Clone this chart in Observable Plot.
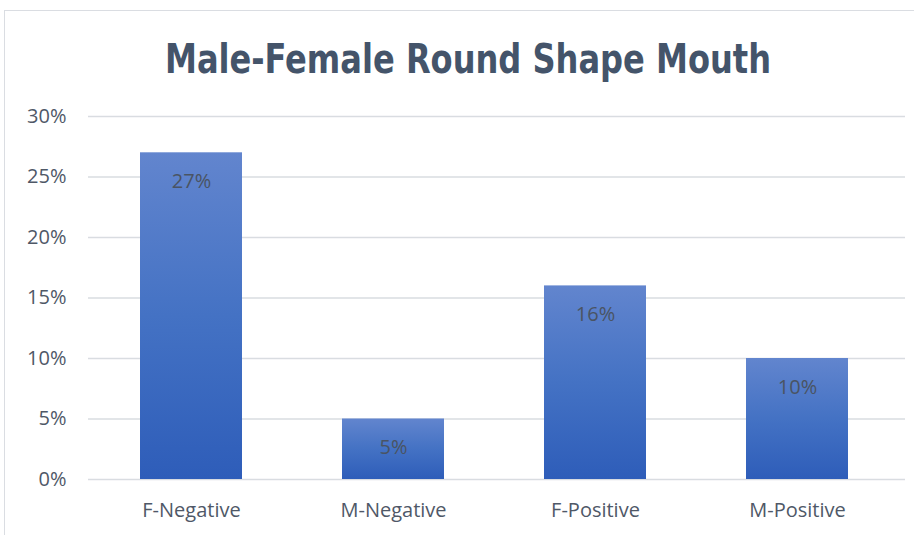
<!DOCTYPE html>
<html><head><meta charset="utf-8">
<script src="https://cdn.jsdelivr.net/npm/d3@7"></script>
<script src="https://cdn.jsdelivr.net/npm/@observablehq/plot@0.6"></script>
<style>
body{margin:0;background:#fff;}
#wrap{position:relative;width:914px;height:535px;overflow:hidden;background:#fff;}
#frame{position:absolute;left:4px;top:10px;width:1000px;height:600px;border-left:1.5px solid #DADDE2;border-top:1.5px solid #DADDE2;}
#title{position:absolute;left:0;width:936px;top:39px;line-height:41px;text-align:center;font-weight:bold;font-size:41px;font-family:"DejaVu Sans Condensed","DejaVu Sans",sans-serif;color:#44546A;white-space:nowrap;transform:scaleX(0.87);transform-origin:468px 0;}
#chart{position:absolute;left:0;top:0;}
</style></head>
<body>
<div id="wrap"><div id="frame"></div><div id="title">Male-Female Round Shape Mouth</div><div id="chart"></div></div>
<script>
const categories = ["F-Negative", "M-Negative", "F-Positive", "M-Positive"];
const values = [27, 5, 16, 10];
const yTicks = [0, 5, 10, 15, 20, 25, 30];
const data = categories.map((c, i) => ({cat: c, value: values[i]}));

const defs = () => {
  const ns = "http://www.w3.org/2000/svg";
  const g = document.createElementNS(ns, "defs");
  g.innerHTML = `<linearGradient id="barGrad" x1="0" y1="0" x2="0" y2="1">
    <stop offset="0" stop-color="#6285CE"/>
    <stop offset="0.5" stop-color="#4472C4"/>
    <stop offset="1" stop-color="#2E5DB9"/>
  </linearGradient>`;
  return g;
};

const plot = Plot.plot({
  width: 914,
  height: 535,
  marginLeft: 88,
  marginRight: 9,
  marginTop: 116,
  marginBottom: 56,
  style: {fontFamily: "'Open Sans', sans-serif", fontSize: "20px", color: "#4F5867", background: "transparent"},
  x: {domain: categories, range: [89, 899], paddingInner: 0.497, paddingOuter: 0.2485, align: 0.5, label: null, tickSize: 0, tickPadding: 23},
  y: {domain: [0, 30], ticks: yTicks, tickFormat: d => d + "%", label: null, tickSize: 0, tickPadding: 22},
  marks: [
    defs,
    Plot.ruleY(yTicks, {stroke: "#D9DCE1", strokeWidth: 1.5}),
    Plot.barY(data, {x: "cat", y: "value", fill: "url(#barGrad)"}),
    Plot.text(data, {x: "cat", y: "value", text: d => d.value + "%", dy: 29, fill: "#4A5463", fontSize: 20})
  ]
});
document.getElementById("chart").appendChild(plot);
</script>
</body></html>
